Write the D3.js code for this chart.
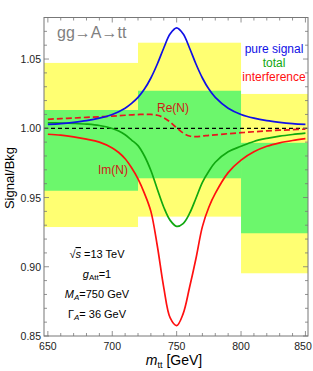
<!DOCTYPE html>
<html>
<head>
<meta charset="utf-8">
<script src="https://cdn.jsdelivr.net/npm/d3@7"></script>
<style>
  body { margin: 0; background: #fff; }
  text { font-family: "Liberation Sans", Arial, sans-serif; }
</style>
</head>
<body>
<div id="chart"></div>
<script>
// bins of the expected-limit bands
let binEdges = [640, 720, 800, 860];
let yellowLo = [0.9287, 0.9362, 0.8953];
let yellowHi = [1.0472, 1.0618, 1.0248];
let greenLo = [0.9549, 0.9639, 0.9242];
let greenHi = [1.0132, 1.0271, 0.9895];

// curves
let mass = [650, 660, 670, 680, 690, 700, 705, 710, 715, 720, 725, 730, 735, 740, 745, 750,
            755, 760, 765, 770, 775, 780, 790, 800, 810, 820, 830, 840, 850];
let pureSignal = [1.0028, 1.0034, 1.0043, 1.0055, 1.0073, 1.0100, 1.0120, 1.0145, 1.0180, 1.0223, 1.0283, 1.0363, 1.0464, 1.0580, 1.0682, 1.0725,
                  1.0682, 1.0580, 1.0464, 1.0363, 1.0283, 1.0223, 1.0145, 1.0100, 1.0073, 1.0055, 1.0043, 1.0034, 1.0028];
let total = [1.0040, 1.0038, 1.0035, 1.0030, 1.0020, 0.9998, 0.9980, 0.9953, 0.9915, 0.9875, 0.9800, 0.9695, 0.9560, 0.9430, 0.9335, 0.9292,
             0.9312, 0.9385, 0.9495, 0.9610, 0.9690, 0.9755, 0.9830, 0.9870, 0.9905, 0.9927, 0.9943, 0.9955, 0.9965];
let imN = [0.9957, 0.9950, 0.9938, 0.9922, 0.9900, 0.9858, 0.9825, 0.9780, 0.9715, 0.9635, 0.9530, 0.9400, 0.9150, 0.8850, 0.8630, 0.8575,
           0.8660, 0.8850, 0.9060, 0.9290, 0.9430, 0.9530, 0.9680, 0.9770, 0.9830, 0.9870, 0.9895, 0.9912, 0.9925];
let reN = [1.0065, 1.0070, 1.0074, 1.0079, 1.0083, 1.0088, 1.0091, 1.0094, 1.0097, 1.0099, 1.0101, 1.0100, 1.0094, 1.0076, 1.0045, 1.0003,
           0.9966, 0.9944, 0.9940, 0.9944, 0.9949, 0.9953, 0.9961, 0.9968, 0.9975, 0.9981, 0.9986, 0.9990, 0.9994];

let xTicks = [650, 700, 750, 800, 850];
let yTicks = [0.85, 0.90, 0.95, 1.00, 1.05];

let w = 313, h = 371;
let pLeft = 44, pRight = 308, pTop = 17.5, pBottom = 336;

let x = d3.scaleLinear().domain([647, 852]).range([pLeft, pRight]);
let y = d3.scaleLinear().domain([0.85, 1.08]).range([pBottom, pTop]);

let svg = d3.select("#chart").append("svg")
    .attr("width", w).attr("height", h);

svg.append("defs").append("clipPath").attr("id", "clip")
    .append("rect")
    .attr("x", pLeft).attr("y", pTop)
    .attr("width", pRight - pLeft).attr("height", pBottom - pTop);

let plot = svg.append("g").attr("clip-path", "url(#clip)");

let bins = d3.range(3).map(i => ({ x0: binEdges[i], x1: binEdges[i + 1], i: i }));

plot.selectAll(".yellow").data(bins).enter().append("rect")
    .attr("x", d => x(d.x0)).attr("width", d => x(d.x1) - x(d.x0))
    .attr("y", d => y(yellowHi[d.i]))
    .attr("height", d => y(yellowLo[d.i]) - y(yellowHi[d.i]))
    .attr("fill", "#ffff72");

plot.selectAll(".green").data(bins).enter().append("rect")
    .attr("x", d => x(d.x0)).attr("width", d => x(d.x1) - x(d.x0))
    .attr("y", d => y(greenHi[d.i]))
    .attr("height", d => y(greenLo[d.i]) - y(greenHi[d.i]))
    .attr("fill", "#6cf76c");

// reference line at 1
plot.append("line")
    .attr("x1", pLeft).attr("x2", pRight)
    .attr("y1", y(1)).attr("y2", y(1))
    .attr("stroke", "#000").attr("stroke-width", 1.2)
    .attr("stroke-dasharray", "4,3");

let line = vals => d3.line()
    .x((d, i) => x(mass[i]))
    .y(d => y(d))
    .curve(d3.curveCatmullRom.alpha(0.5))(vals);

let curves = [
    { v: reN, color: "#e8141e", dash: "6,3" },
    { v: imN, color: "#ff1010", dash: null },
    { v: total, color: "#10a810", dash: null },
    { v: pureSignal, color: "#1010e6", dash: null }
];

plot.selectAll(".curve").data(curves).enter().append("path")
    .attr("d", d => line(d.v))
    .attr("fill", "none")
    .attr("stroke", d => d.color)
    .attr("stroke-width", 1.7)
    .attr("stroke-dasharray", d => d.dash);

// frame and ticks (inward, on all sides)
let frameColor = "#777";
svg.append("rect")
    .attr("x", pLeft).attr("y", pTop)
    .attr("width", pRight - pLeft).attr("height", pBottom - pTop)
    .attr("fill", "none").attr("stroke", frameColor).attr("stroke-width", 1);

let xMinor = d3.range(650, 851, 10);
let yMinor = d3.range(0.85, 1.081, 0.01);

let tickG = svg.append("g").attr("stroke", frameColor).attr("stroke-width", 0.8);
xMinor.forEach(v => {
    let major = xTicks.includes(v);
    let len = major ? 5 : 3;
    tickG.append("line").attr("x1", x(v)).attr("x2", x(v)).attr("y1", pBottom).attr("y2", pBottom - len);
    tickG.append("line").attr("x1", x(v)).attr("x2", x(v)).attr("y1", pTop).attr("y2", pTop + len);
});
yMinor.forEach(v => {
    let major = yTicks.some(t => Math.abs(t - v) < 1e-6);
    let len = major ? 5 : 3;
    tickG.append("line").attr("y1", y(v)).attr("y2", y(v)).attr("x1", pLeft).attr("x2", pLeft + len);
    tickG.append("line").attr("y1", y(v)).attr("y2", y(v)).attr("x1", pRight).attr("x2", pRight - len);
});

svg.selectAll(".xlab").data(xTicks).enter().append("text")
    .attr("x", d => Math.min(x(d), 303)).attr("y", pBottom + 14)
    .attr("text-anchor", "middle").attr("font-size", 10.5).attr("fill", "#222")
    .text(d => d);

svg.selectAll(".ylab").data(yTicks).enter().append("text")
    .attr("x", pLeft - 3).attr("y", d => y(d) + 4)
    .attr("text-anchor", "end").attr("font-size", 10.5).attr("fill", "#222")
    .text(d => d.toFixed(2));

// axis titles
svg.append("text")
    .attr("transform", "translate(14,178) rotate(-90)")
    .attr("text-anchor", "middle").attr("font-size", 13)
    .text("Signal/Bkg");

let xt = svg.append("text")
    .attr("x", 174).attr("y", 365)
    .attr("text-anchor", "middle").attr("font-size", 14);
xt.append("tspan").attr("font-style", "italic").text("m");
xt.append("tspan").attr("font-size", 9).attr("dy", 3).text("tt");
xt.append("tspan").attr("dy", -3).text(" [GeV]");

// process label
svg.append("text")
    .attr("x", 57).attr("y", 38)
    .attr("font-size", 16).attr("fill", "#808080")
    .text("gg\u2192A\u2192tt");

// legend
let legend = [
    { t: "pure signal", c: "#1010e6" },
    { t: "total", c: "#10a810" },
    { t: "interference", c: "#ff1010" }
];
svg.selectAll(".leg").data(legend).enter().append("text")
    .attr("x", 274).attr("y", (d, i) => 53 + i * 14)
    .attr("text-anchor", "middle").attr("font-size", 12)
    .attr("fill", d => d.c)
    .text(d => d.t);

// curve labels
svg.append("text").attr("x", 157).attr("y", 112)
    .attr("font-size", 12).attr("fill", "#d01818").text("Re(N)");
svg.append("text").attr("x", 98).attr("y", 174)
    .attr("font-size", 12).attr("fill", "#d01818").text("Im(N)");

// parameters block
let px = 97;
let p1 = svg.append("text").attr("x", px).attr("y", 258)
    .attr("text-anchor", "middle").attr("font-size", 11);
p1.append("tspan").text("\u221A");
p1.append("tspan").attr("font-style", "italic")
    .attr("text-decoration", "overline").text("s");
p1.append("tspan").text(" =13 TeV");

let p2 = svg.append("text").attr("x", px).attr("y", 278)
    .attr("text-anchor", "middle").attr("font-size", 11);
p2.append("tspan").attr("font-style", "italic").text("g");
p2.append("tspan").attr("font-size", 8).attr("dy", 2).text("Att");
p2.append("tspan").attr("dy", -2).text("=1");

let p3 = svg.append("text").attr("x", px).attr("y", 298)
    .attr("text-anchor", "middle").attr("font-size", 11);
p3.append("tspan").attr("font-style", "italic").text("M");
p3.append("tspan").attr("font-size", 8).attr("font-style", "italic").attr("dy", 2).text("A");
p3.append("tspan").attr("dy", -2).text("=750 GeV");

let p4 = svg.append("text").attr("x", px).attr("y", 318)
    .attr("text-anchor", "middle").attr("font-size", 11);
p4.append("tspan").text("\u0393");
p4.append("tspan").attr("font-size", 8).attr("font-style", "italic").attr("dy", 2).text("A");
p4.append("tspan").attr("dy", -2).text("= 36 GeV");
</script>
</body>
</html>
